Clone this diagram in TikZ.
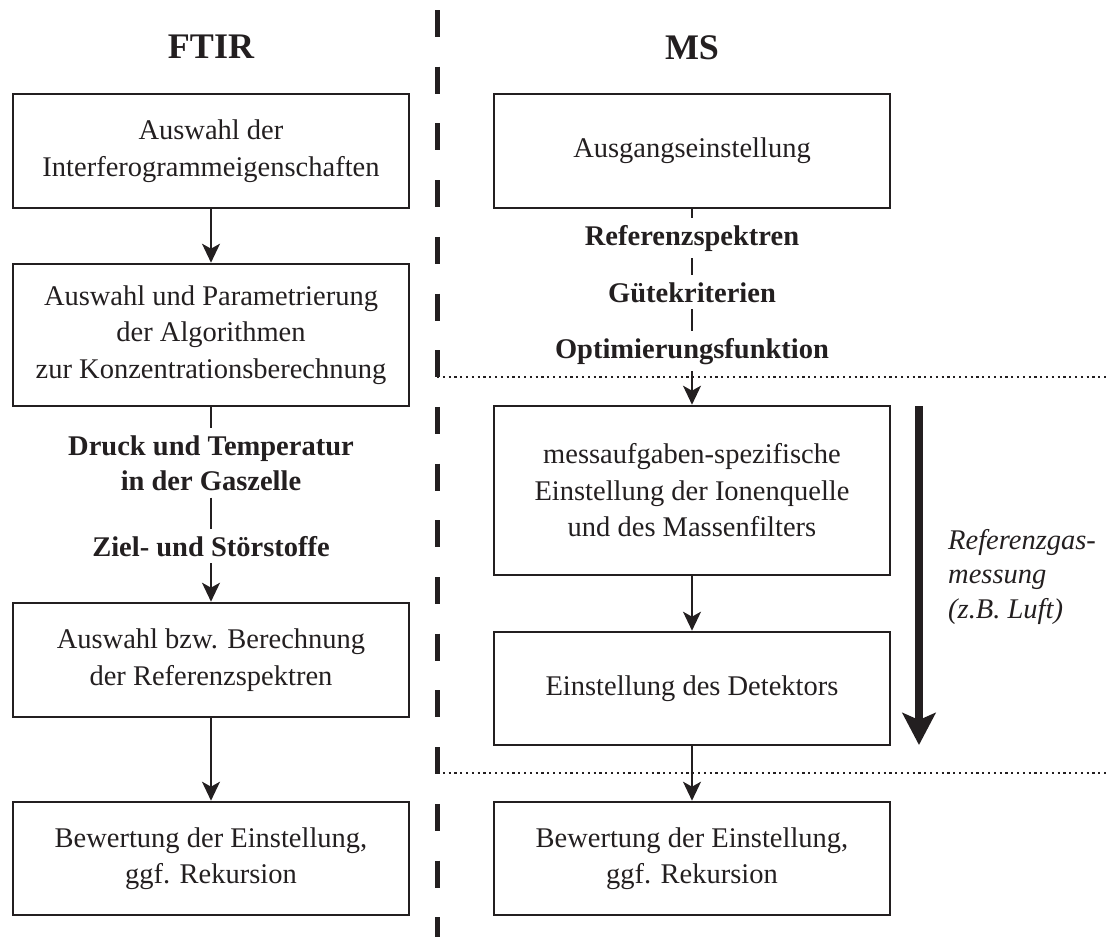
\documentclass[tikz,border=0pt]{standalone}
\usepackage{fontspec}
\setmainfont{Liberation Serif}
\usetikzlibrary{arrows.meta}
\definecolor{ink}{HTML}{231F20}
\begin{document}
\begin{tikzpicture}[x=1pt,y=-1pt,
  every node/.style={text=ink},
  stepbox/.style={draw=ink, line width=2.6pt, minimum width=396pt, inner sep=0pt,
    align=center, font=\fontsize{28.5pt}{36.5pt}\selectfont},
  head/.style={font=\fontsize{36pt}{40pt}\selectfont\bfseries},
  cond/.style={font=\fontsize{28.5pt}{35pt}\selectfont\bfseries, align=center,
    inner sep=0pt, outer sep=7pt},
  flow/.style={draw=ink, line width=2pt},
  flowarrow/.style={flow, -{Stealth[length=19pt,width=18pt,inset=5pt]}},
  sep/.style={draw=ink, line width=2pt, dash pattern=on 2.2pt off 3.6pt},
  divider/.style={draw=ink, line width=5pt, dash pattern=on 27pt off 29.7pt},
  bigarrow/.style={draw=ink, line width=8pt, -{Stealth[length=32pt,width=33pt,inset=7pt]}},
  note/.style={font=\fontsize{28.5pt}{34.5pt}\selectfont\itshape, align=left, inner sep=0pt}
]
\useasboundingbox (0,0) rectangle (1109,937);

% column headings
\node[head] (ftir) at (211,47) {FTIR};
\node[head] (ms) at (692,48) {MS};

% FTIR column
\node[stepbox, minimum height=114pt] (l1) at (211,151) {Auswahl der\\Interferogrammeigenschaften};
\node[stepbox, minimum height=142pt] (l2) at (211,335) {Auswahl und Parametrierung\\der Algorithmen\\zur Konzentrationsberechnung};
\node[stepbox, minimum height=114pt] (l3) at (211,660) {Auswahl bzw. Berechnung\\der Referenzspektren};
\node[stepbox, minimum height=113pt] (l4) at (211,858.5) {Bewertung der Einstellung,\\ggf. Rekursion};

\node[cond] (c1) at (211,463) {Druck und Temperatur\\in der Gaszelle};
\node[cond, anchor=base] (c2) at (211,556) {Ziel- und Störstoffe};

% MS column
\node[stepbox, minimum height=114pt] (r1) at (692,151) {Ausgangseinstellung};
\node[stepbox, minimum height=169pt] (r2) at (692,490.5) {messaufgaben-spezifische\\Einstellung der Ionenquelle\\und des Massenfilters};
\node[stepbox, minimum height=113pt] (r3) at (692,688.5) {Einstellung des Detektors};
\node[stepbox, minimum height=113pt] (r4) at (692,858.5) {Bewertung der Einstellung,\\ggf. Rekursion};

\node[cond, anchor=base] (q1) at (692,245) {Referenzspektren};
\node[cond, anchor=base] (q2) at (692,302) {Gütekriterien};
\node[cond, anchor=base] (q3) at (692,358) {Optimierungsfunktion};

% separators
\coordinate (dTop) at (437,10);
\coordinate (dBot) at (437,937);
\coordinate (s1a) at (437,377);
\coordinate (s1b) at (1109,377);
\coordinate (s2a) at (437,773);
\coordinate (s2b) at (1109,773);
\draw[divider] (dTop) -- (dBot);
\draw[sep] (s1a) -- (s1b);
\draw[sep] (s2a) -- (s2b);

% FTIR flow
\draw[flowarrow] (l1) -- (l2);
\draw[flow] (l2) -- (c1);
\draw[flow] (c1) -- (c2);
\draw[flowarrow] (c2) -- (l3);
\draw[flowarrow] (l3) -- (l4);

% MS flow
\draw[flow] (r1) -- (q1);
\draw[flow] (q1) -- (q2);
\draw[flow] (q2) -- (q3);
\draw[flowarrow] (q3) -- (r2);
\draw[flowarrow] (r2) -- (r3);
\draw[flowarrow] (r3) -- (r4);

% reference gas measurement
\coordinate (gasA) at (919,406);
\coordinate (gasB) at (919,745);
\draw[bigarrow] (gasA) -- (gasB);
\node[note, anchor=north west] (gasnote) at (948,529) {Referenzgas-\\messung\\(z.B. Luft)};
\end{tikzpicture}
\end{document}
